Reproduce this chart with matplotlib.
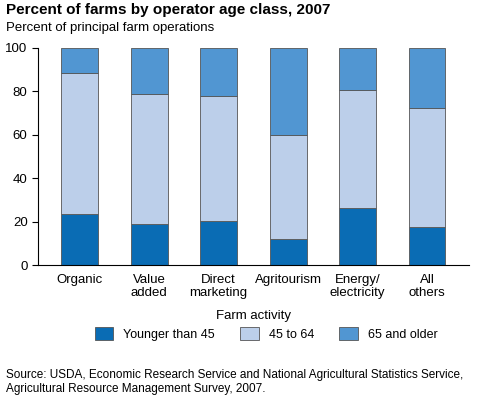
import matplotlib
matplotlib.use("Agg")
import matplotlib.pyplot as plt
import numpy as np

plt.rcParams['font.family'] = ['Liberation Sans', 'DejaVu Sans']

categories = ["Organic", "Value\nadded", "Direct\nmarketing", "Agritourism", "Energy/\nelectricity", "All\nothers"]
young = [23.5, 19, 20.5, 12, 26.5, 17.5]
middle = [65, 60, 57.5, 48, 54, 55]
old = [11.5, 21, 22, 40, 19.5, 27.5]
series_labels = ["Younger than 45", "45 to 64", "65 and older"]
colors = ["#0a6cb4", "#bccfea", "#5196d2"]

fig = plt.figure(figsize=(4.84, 4.0), dpi=100)
ax = fig.add_axes([0.0785, 0.337, 0.89, 0.543])
x = np.arange(len(categories))
bottom = np.zeros(len(categories))
for vals, lab, c in zip([young, middle, old], series_labels, colors):
    ax.bar(x, vals, 0.53, bottom=bottom, color=c, edgecolor="#555555", linewidth=0.6, label=lab)
    bottom += np.array(vals)

ax.set_ylim(0, 100)
ax.set_xlim(-0.6, 5.6)
ax.set_yticks(range(0, 101, 20))
ax.set_xticks(x)
ax.set_xticklabels(categories, fontsize=9.5)
ax.tick_params(axis="y", labelsize=9.5, length=4)
ax.tick_params(axis="x", length=0, pad=6)
for s in ["top", "right"]:
    ax.spines[s].set_visible(False)
ax.set_xlabel("Farm activity", fontsize=9.5, labelpad=8)

fig.text(0.012, 0.965, "Percent of farms by operator age class, 2007", fontsize=11, fontweight="bold")
fig.text(0.012, 0.922, "Percent of principal farm operations", fontsize=9.5)
fig.legend(loc="lower center", bbox_to_anchor=(0.55, 0.12), ncol=3, frameon=False, fontsize=9,
           handlelength=1.5, handleheight=1.2, columnspacing=2.0)
fig.text(0.012, 0.02, "Source: USDA, Economic Research Service and National Agricultural Statistics Service,\nAgricultural Resource Management Survey, 2007.", fontsize=8.5)
fig.savefig("out.png", dpi=100)
